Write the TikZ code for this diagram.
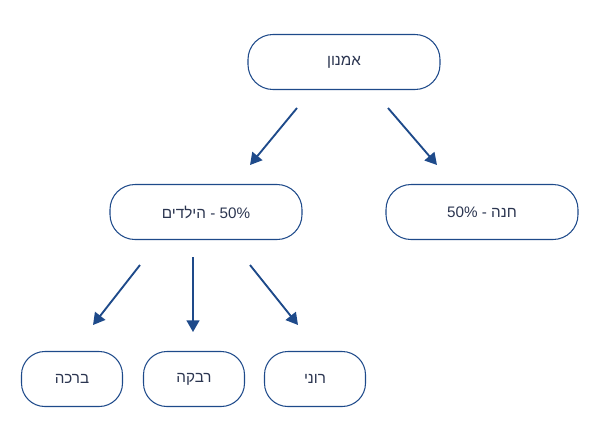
\documentclass[tikz,border=0pt]{standalone}
\usepackage{fontspec}
\setmainfont[Script=Hebrew]{Liberation Sans}
\TeXXeTstate=1
\usetikzlibrary{positioning, arrows.meta}
\definecolor{navy}{HTML}{1E4A8A}
\definecolor{txt}{HTML}{2B3550}

\begin{document}
\begin{tikzpicture}[x=0.03cm, y=-0.03cm,
    person/.style={rectangle, rounded corners=0.75cm, draw=navy, line width=0.9pt, minimum height=1.65cm, text=txt, font=\fontsize{13}{15}\selectfont},
    wide/.style={person, minimum width=5.76cm},
    small/.style={person, minimum width=3.03cm, rounded corners=0.7cm},
    link/.style={-{Triangle[length=10pt, width=11pt]}, draw=navy, line width=1.6pt}
]
\useasboundingbox (0,0) rectangle (600,442);

\node[wide] (amnon) at (344,62) {\beginR אמנון\endR};
\node[wide] (kids) at (206,212) {\beginR הילדים\endR{} - 50\%};
\node[wide] (hana) at (482,212) {50\% - \beginR חנה\endR};
\node[small] (bracha) at (72,379) {\beginR ברכה\endR};
\node[small] (rivka) at (194,379) {\beginR רבקה\endR};
\node[small] (roni) at (315,379) {\beginR רוני\endR};

% arrow ends
\coordinate (a1) at (297,108); \coordinate (b1) at (250,165);
\coordinate (a2) at (388,108); \coordinate (b2) at (437,165);
\coordinate (a3) at (140,265); \coordinate (b3) at (93,325);
\coordinate (a4) at (193,257); \coordinate (b4) at (193,332);
\coordinate (a5) at (250,265); \coordinate (b5) at (298,325);

\draw[link] (a1) -- (b1);
\draw[link] (a2) -- (b2);
\draw[link] (a3) -- (b3);
\draw[link] (a4) -- (b4);
\draw[link] (a5) -- (b5);

\end{tikzpicture}
\end{document}
